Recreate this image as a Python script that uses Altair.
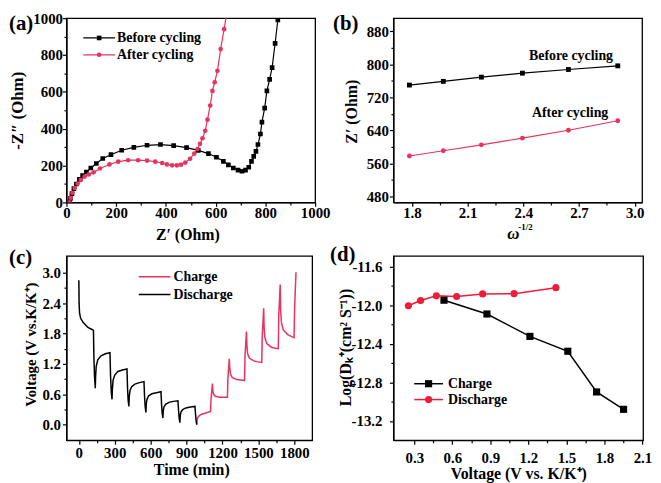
import altair as alt
import pandas as pd

SERIF = "Liberation Serif"
BLACK = "#000000"
PINK = "#E6335F"
RED = "#EE1C3A"

# ---------------- (a) Nyquist plots ----------------
a_before_x = [12, 16, 22, 30, 40, 52, 65, 80, 98, 120, 146, 179, 222, 271, 324, 378, 431, 483, 530, 571,
              603, 631, 651, 671, 690, 706, 720, 733, 744, 753, 762, 770, 780, 786, 797, 806, 817, 827, 839, 850, 862]
a_before_y = [0, 22, 48, 75, 100, 125, 145, 165, 187, 211, 238, 259, 283, 299, 310, 314, 308, 297, 282, 265,
              245, 223, 204, 187, 175, 169, 175, 191, 223, 250, 277, 314, 371, 436, 512, 605, 668, 731, 863, 990, 1120]
a_after_x = [12, 17, 24, 33, 45, 58, 73, 90, 109, 135, 173, 208, 248, 288, 324, 357, 385, 404, 425, 444,
             461, 478, 497, 514, 527, 537, 547, 558, 567, 578, 587, 596, 607, 620, 634, 646]
a_after_y = [0, 25, 52, 78, 102, 122, 140, 152, 163, 184, 206, 221, 229, 229, 227, 221, 214, 206, 201, 201,
             205, 216, 237, 265, 290, 318, 348, 389, 449, 526, 605, 652, 714, 832, 940, 1040]
a_series = ["Before cycling", "After cycling"]
a_ticks = [0, 100, 200, 300, 400, 500, 600, 700, 800, 900, 1000]

# ---------------- (b) Z' vs omega^-1/2 ----------------
b_x = [1.786, 1.969, 2.174, 2.395, 2.643, 2.909]
b_before = [750.0, 758.9, 769.2, 778.8, 787.7, 796.5]
b_after = [578.3, 591.0, 605.4, 621.5, 640.7, 663.7]
b_xticks = [1.8, 1.95, 2.1, 2.25, 2.4, 2.55, 2.7, 2.85, 3.0]
b_yticks = [480, 520, 560, 600, 640, 680, 720, 760, 800, 840, 880]
b_note_x = [2.657, 2.652]
b_note_y = [821, 682]

# ---------------- (c) GITT ----------------
c_dis_t = [0, 2, 6, 15, 35, 76, 110, 122, 126, 131, 137, 140, 145, 158, 185, 222, 260, 265, 271, 277,
           280, 286, 300, 326, 364, 402, 407, 412, 418, 421, 427, 441, 468, 506, 544, 549, 554, 560, 563, 569,
           583, 610, 648, 686, 691, 696, 702, 705, 711, 725, 752, 790, 828, 833, 838, 844, 847, 853, 867, 894,
           932, 970, 975, 980, 985]
c_dis_v = [2.85, 2.40, 2.20, 2.10, 2.02, 1.92, 1.88, 1.86, 1.30, 0.95, 0.72, 0.95, 1.15, 1.28, 1.36, 1.40, 1.42, 0.95, 0.65, 0.50,
           0.70, 0.88, 0.98, 1.05, 1.08, 1.10, 0.70, 0.48, 0.36, 0.55, 0.67, 0.75, 0.80, 0.83, 0.85, 0.55, 0.36, 0.24, 0.40, 0.50,
           0.57, 0.61, 0.63, 0.65, 0.40, 0.23, 0.13, 0.27, 0.35, 0.40, 0.44, 0.46, 0.47, 0.28, 0.13, 0.04, 0.18, 0.25, 0.30, 0.33,
           0.35, 0.36, 0.20, 0.07, 0.00]
c_chg_t = [985, 989, 998, 1020, 1060, 1100, 1104, 1116, 1120, 1126, 1140, 1175, 1210, 1241, 1245, 1257, 1261, 1267, 1282, 1320,
           1355, 1384, 1388, 1400, 1404, 1410, 1425, 1462, 1498, 1528, 1532, 1544, 1548, 1554, 1570, 1607, 1642, 1666, 1670, 1682,
           1686, 1692, 1708, 1745, 1778, 1798, 1802, 1814]
c_chg_v = [0.00, 0.11, 0.16, 0.20, 0.23, 0.26, 0.50, 0.81, 0.65, 0.60, 0.56, 0.54, 0.54, 0.54, 0.92, 1.30, 1.10, 1.00, 0.93, 0.89,
           0.88, 0.87, 1.35, 1.84, 1.55, 1.40, 1.31, 1.26, 1.24, 1.23, 1.75, 2.30, 1.90, 1.72, 1.60, 1.53, 1.51, 1.50, 2.15, 2.77,
           2.25, 2.02, 1.87, 1.78, 1.74, 1.72, 2.30, 3.01]
c_series = ["Charge", "Discharge"]
c_xticks = [0, 150, 300, 450, 600, 750, 900, 1050, 1200, 1350, 1500, 1650, 1800]
c_yticks = [0.0, 0.3, 0.6, 0.9, 1.2, 1.5, 1.8, 2.1, 2.4, 2.7, 3.0]

# ---------------- (d) diffusion coefficient ----------------
d_chg_x = [0.534, 0.873, 1.212, 1.511, 1.738, 1.951]
d_chg_y = [-11.949, -12.092, -12.324, -12.478, -12.90, -13.08]
d_dis_x = [0.253, 0.349, 0.474, 0.634, 0.839, 1.087, 1.417]
d_dis_y = [-12.006, -11.952, -11.904, -11.911, -11.884, -11.881, -11.819]
d_series = ["Charge", "Discharge"]
d_xticks = [0.3, 0.45, 0.6, 0.75, 0.9, 1.05, 1.2, 1.35, 1.5, 1.65, 1.8, 1.95, 2.1]
d_yticks = [-13.2, -13.0, -12.8, -12.6, -12.4, -12.2, -12.0, -11.8, -11.6]

panel_labels = ["(a)", "(b)", "(c)", "(d)"]


def tick_axis(values, step, fmt, pad, title, tx, ty, angle, tsize=16):
    test = f"abs(datum.value / {step} - round(datum.value / {step})) < 0.01"
    kw = dict(
        values=values,
        tickSize={"condition": {"test": test, "value": 4}, "value": 2.5},
        labelExpr=f"({test}) ? replace(format(datum.value, '{fmt}'), '\u2212', '-') : ''",
        labelPadding=pad, labelFlush=False, labelOverlap=False, grid=False,
    )
    if title is None:
        kw["title"] = None
    else:
        kw.update(title=title, titleX=tx, titleY=ty, titleAngle=angle, titleAlign="center",
                  titleBaseline="middle", titleFontSize=tsize)
    return alt.Axis(**kw)


def one(label):
    return pd.DataFrame({"l": [label]})


def legend_entry(label, color, shape, x1, x2, y, tx, size, sw):
    layers = [alt.Chart(one(label)).mark_rule(color=color, strokeWidth=sw).encode(
        x=alt.value(x1), x2=alt.value(x2), y=alt.value(y))]
    if shape:
        layers.append(alt.Chart(one(label)).mark_point(shape=shape, filled=True, color=color, size=size, opacity=1).encode(
            x=alt.value((x1 + x2) / 2), y=alt.value(y)))
    layers.append(alt.Chart(one(label)).mark_text(align="left", baseline="middle", font=SERIF, fontWeight="bold",
                                                  fontSize=14, color="black").encode(
        x=alt.value(tx), y=alt.value(y), text="l:N"))
    return layers


def panel_label(label, x, y):
    return alt.Chart(one(label)).mark_text(align="left", baseline="top", font=SERIF, fontWeight="bold",
                                           fontSize=21, color="black").encode(
        x=alt.value(x), y=alt.value(y), text="l:N")


# ---------- panel a ----------
df_a = pd.DataFrame({
    "x": a_before_x + a_after_x,
    "y": a_before_y + a_after_y,
    "sa": [a_series[0]] * len(a_before_x) + [a_series[1]] * len(a_after_x),
    "i": list(range(len(a_before_x))) + list(range(len(a_after_x))),
})
Xa = alt.X("x:Q", scale=alt.Scale(domain=[0, 1000], nice=False, zero=False),
           axis=tick_axis(a_ticks, 200, "d", -1, "Z\u2032 (Ohm)", 122, 32, 0))
Ya = alt.Y("y:Q", scale=alt.Scale(domain=[0, 1000], nice=False, zero=False),
           axis=tick_axis(a_ticks, 200, "d", 0, "-Z\u2033 (Ohm)", -49, 93, 270, 17))
col_a = alt.Color("sa:N", scale=alt.Scale(domain=a_series, range=[BLACK, PINK]), legend=None)
shp_a = alt.Shape("sa:N", scale=alt.Scale(domain=a_series, range=["square", "circle"]), legend=None)
a_lines = alt.Chart(df_a).mark_line(strokeWidth=1.2, clip=True).encode(x=Xa, y=Ya, color=col_a, detail="sa:N", order="i:Q")
a_pts = alt.Chart(df_a).mark_point(filled=True, size=22, opacity=1, clip=True).encode(x=Xa, y=Ya, color=col_a, shape=shp_a)
panel_a = alt.layer(
    a_lines, a_pts,
    *legend_entry(a_series[0], BLACK, "square", 17, 49, 20, 51, 22, 1.2),
    *legend_entry(a_series[1], PINK, "circle", 17, 49, 37, 51, 22, 1.2),
    panel_label(panel_labels[0], -58, -5),
).properties(width=251, height=186)

# ---------- panel b ----------
df_b = pd.DataFrame({
    "x": b_x + b_x,
    "y": b_before + b_after,
    "sb": [a_series[0]] * len(b_x) + [a_series[1]] * len(b_x),
    "i": list(range(len(b_x))) * 2,
})
Xb = alt.X("x:Q", scale=alt.Scale(domain=[1.70, 3.04], nice=False, zero=False),
           axis=tick_axis(b_xticks, 0.3, ".1f", -1, None, 0, 0, 0))
Yb = alt.Y("y:Q", scale=alt.Scale(domain=[466, 912], nice=False, zero=False),
           axis=tick_axis(b_yticks, 80, "d", 1, "Z\u2032 (Ohm)", -42, 94, 270))
col_b = alt.Color("sb:N", scale=alt.Scale(domain=a_series, range=[BLACK, PINK]), legend=None)
shp_b = alt.Shape("sb:N", scale=alt.Scale(domain=a_series, range=["square", "circle"]), legend=None)
b_lines = alt.Chart(df_b).mark_line(strokeWidth=1.2).encode(x=Xb, y=Yb, color=col_b, detail="sb:N", order="i:Q")
b_pts = alt.Chart(df_b).mark_point(filled=True, size=24, opacity=1).encode(x=Xb, y=Yb, color=col_b, shape=shp_b)
df_bt = pd.DataFrame({"x": b_note_x, "y": b_note_y, "l": a_series})
b_notes = alt.Chart(df_bt).mark_text(align="center", baseline="middle", font=SERIF, fontWeight="bold",
                                     fontSize=14, color="black").encode(x=Xb, y=Yb, text="l:N")
b_omega = alt.Chart(one("\u03c9")).mark_text(align="center", baseline="middle", font=SERIF, fontWeight="bold",
                                              fontStyle="italic", fontSize=17, color="black").encode(
    x=alt.value(121), y=alt.value(218), text="l:N")
b_sup = alt.Chart(one("-1/2")).mark_text(align="left", baseline="middle", font=SERIF, fontWeight="bold",
                                         fontSize=9, color="black").encode(
    x=alt.value(126), y=alt.value(211), text="l:N")
panel_b = alt.layer(b_lines, b_pts, b_notes, b_omega, b_sup,
                    panel_label(panel_labels[1], -61, -5)).properties(width=251, height=186)

# ---------- panel c ----------
df_c = pd.DataFrame({
    "t": c_chg_t + c_dis_t,
    "v": c_chg_v + c_dis_v,
    "sc": [c_series[0]] * len(c_chg_t) + [c_series[1]] * len(c_dis_t),
    "i": list(range(len(c_chg_t))) + list(range(len(c_dis_t))),
})
Xc = alt.X("t:Q", scale=alt.Scale(domain=[-103.5, 1949], nice=False, zero=False),
           axis=tick_axis(c_xticks, 300, "d", 1, "Time (min)", 126, 30, 0))
Yc = alt.Y("v:Q", scale=alt.Scale(domain=[-0.307, 3.333], nice=False, zero=False),
           axis=tick_axis(c_yticks, 0.6, ".1f", 2, "Voltage (V vs.K/K\u207a)", -36, 89, 270, 15))
col_c = alt.Color("sc:N", scale=alt.Scale(domain=c_series, range=[PINK, BLACK]), legend=None)
c_lines = alt.Chart(df_c).mark_line(strokeWidth=1.5).encode(x=Xc, y=Yc, color=col_c, detail="sc:N", order="i:Q")
panel_c = alt.layer(
    c_lines,
    *legend_entry(c_series[0], PINK, None, 73, 105, 21, 108, 0, 1.5),
    *legend_entry(c_series[1], BLACK, None, 73, 105, 39, 108, 0, 1.5),
    panel_label(panel_labels[2], -58, -9),
).properties(width=248, height=186)

# ---------- panel d ----------
df_d = pd.DataFrame({
    "x": d_chg_x + d_dis_x,
    "y": d_chg_y + d_dis_y,
    "sd": [d_series[0]] * len(d_chg_x) + [d_series[1]] * len(d_dis_x),
    "i": list(range(len(d_chg_x))) + list(range(len(d_dis_x))),
})
Xd = alt.X("x:Q", scale=alt.Scale(domain=[0.135, 2.105], nice=False, zero=False),
           axis=tick_axis(d_xticks, 0.3, ".1f", 7, "Voltage (V vs. K/K\u207a)", 126, 34, 0))
Yd = alt.Y("y:Q", scale=alt.Scale(domain=[-13.40, -11.49], nice=False, zero=False),
           axis=tick_axis(d_yticks, 0.4, ".1f", 7.5, "Log(D\u2096\u207a(cm\u00b2 S\u207b\u00b9))", -48, 92, 270))
col_d = alt.Color("sd:N", scale=alt.Scale(domain=d_series, range=[BLACK, RED]), legend=None)
shp_d = alt.Shape("sd:N", scale=alt.Scale(domain=d_series, range=["square", "circle"]), legend=None)
d_lines = alt.Chart(df_d).mark_line(strokeWidth=1.5).encode(x=Xd, y=Yd, color=col_d, detail="sd:N", order="i:Q")
d_pts = alt.Chart(df_d).mark_point(filled=True, size=52, opacity=1).encode(x=Xd, y=Yd, color=col_d, shape=shp_d)
panel_d = alt.layer(
    d_lines, d_pts,
    *legend_entry(d_series[0], BLACK, "square", 21, 50, 129, 55, 52, 1.5),
    *legend_entry(d_series[1], RED, "circle", 21, 50, 145, 55, 52, 1.5),
    panel_label(panel_labels[3], -64, -12),
).properties(width=252, height=186)

chart = alt.concat(
    panel_a, panel_b, panel_c, panel_d,
    columns=2, bounds="flush", spacing={"row": 54, "column": 79},
).resolve_scale(
    color="independent", shape="independent", x="independent", y="independent"
).properties(
    padding=0, background="white"
).configure_view(stroke="black", strokeWidth=1.3).configure_axis(
    labelFont=SERIF, labelFontSize=15, labelFontWeight="bold", labelColor="black",
    titleFont=SERIF, titleFontWeight="bold", titleColor="black",
    domainColor="black", domainWidth=1.3, tickColor="black", tickWidth=1.2, grid=False,
)

chart.save("out.html", embed_options={"renderer": "svg", "actions": False})
